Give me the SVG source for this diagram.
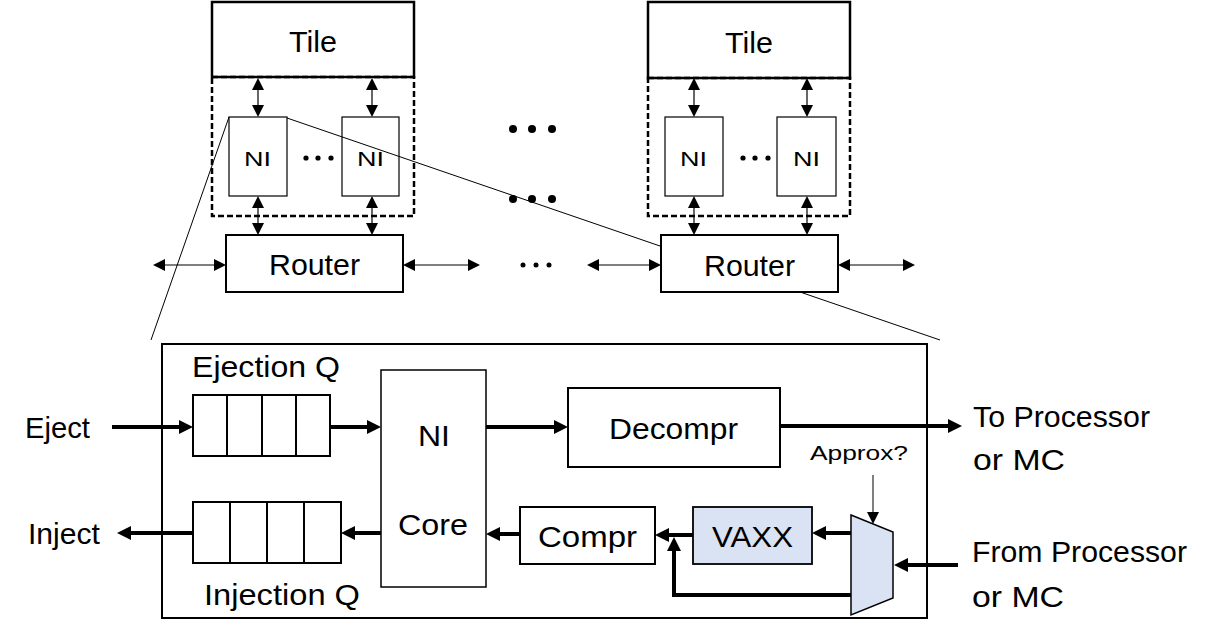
<svg xmlns="http://www.w3.org/2000/svg" width="1214" height="640" viewBox="0 0 1214 640">
<style>
  .box{fill:#fff;stroke:#000;stroke-width:2}
  .thinbox{fill:#fff;stroke:#000;stroke-width:1.2}
  .dash{fill:none;stroke:#000;stroke-width:2.5;stroke-dasharray:6 3}
  .blue{fill:#dae3f3;stroke:#000;stroke-width:1.8}
  .thin{fill:none;stroke:#000;stroke-width:1.2}
  .thick{fill:none;stroke:#000;stroke-width:4}
  .zoom{fill:none;stroke:#000;stroke-width:1}
  text{font-family:"Liberation Sans",Arial,sans-serif;fill:#000}
  .big{font-size:29px}
  .small{font-size:20px}
</style>
<defs>
  <marker id="th" markerUnits="userSpaceOnUse" viewBox="0 0 12 12" refX="0" refY="6" markerWidth="12" markerHeight="12" orient="auto-start-reverse">
    <path d="M0,0 L12,6 L0,12 z" fill="#000"/>
  </marker>
  <marker id="tk" markerUnits="userSpaceOnUse" viewBox="0 0 14 14" refX="0" refY="7" markerWidth="14" markerHeight="14" orient="auto-start-reverse">
    <path d="M0,0 L14,7 L0,14 z" fill="#000"/>
  </marker>
</defs>

<g id="tile-left">
  <rect class="box" x="212" y="2" width="202" height="75" style="stroke-width:2.5"/>
  <text class="big" x="289" y="52" textLength="48" lengthAdjust="spacingAndGlyphs">Tile</text>
</g>
<g id="ni-group-left">
  <rect class="dash" x="212" y="77" width="202" height="139"/>
</g>
<g id="ni-left-1">
  <rect class="thinbox" x="229" y="117" width="58" height="79"/>
  <text class="small" x="244" y="166" textLength="27" lengthAdjust="spacingAndGlyphs">NI</text>
</g>
<g id="ni-left-dots">
  <circle cx="306" cy="158" r="2.6"/><circle cx="318" cy="158" r="2.6"/><circle cx="331" cy="158" r="2.6"/>
</g>
<g id="ni-left-2">
  <rect class="thinbox" x="342" y="117" width="57" height="79"/>
  <text class="small" x="357" y="166" textLength="27" lengthAdjust="spacingAndGlyphs">NI</text>
</g>
<g id="router-left">
  <rect class="box" x="226" y="235" width="177" height="57"/>
  <text class="big" x="269" y="275" textLength="91" lengthAdjust="spacingAndGlyphs">Router</text>
</g>

<g id="tile-right">
  <rect class="box" x="648" y="2" width="202" height="76" style="stroke-width:2.5"/>
  <text class="big" x="725" y="53" textLength="48" lengthAdjust="spacingAndGlyphs">Tile</text>
</g>
<g id="ni-group-right">
  <rect class="dash" x="648" y="78" width="202" height="138"/>
</g>
<g id="ni-right-1">
  <rect class="thinbox" x="665" y="117" width="58" height="79"/>
  <text class="small" x="680" y="166" textLength="27" lengthAdjust="spacingAndGlyphs">NI</text>
</g>
<g id="ni-right-dots">
  <circle cx="743" cy="158" r="2.6"/><circle cx="755" cy="158" r="2.6"/><circle cx="768" cy="158" r="2.6"/>
</g>
<g id="ni-right-2">
  <rect class="thinbox" x="777" y="117" width="59" height="79"/>
  <text class="small" x="793" y="166" textLength="27" lengthAdjust="spacingAndGlyphs">NI</text>
</g>
<g id="router-right">
  <rect class="box" x="661" y="235" width="177" height="57"/>
  <text class="big" x="704" y="276" textLength="91" lengthAdjust="spacingAndGlyphs">Router</text>
</g>

<g id="ellipses">
  <circle cx="513" cy="129" r="4"/><circle cx="532" cy="129" r="4"/><circle cx="552" cy="129" r="4"/>
  <circle cx="513" cy="199" r="4"/><circle cx="532" cy="199" r="4"/><circle cx="552" cy="199" r="4"/>
  <circle cx="523" cy="265" r="2.5"/><circle cx="536" cy="265" r="2.5"/><circle cx="549" cy="265" r="2.5"/>
</g>

<g id="ni-detail">
  <rect class="box" x="162" y="344" width="765" height="274"/>
</g>
<g id="ejection-q">
  <rect class="box" x="193" y="395" width="137" height="61"/>
  <path class="box" d="M227,395V456M262,395V456M296,395V456"/>
  <text class="big" x="192" y="377" textLength="148" lengthAdjust="spacingAndGlyphs">Ejection Q</text>
</g>
<g id="injection-q">
  <rect class="box" x="193" y="502" width="148" height="61"/>
  <path class="box" d="M230,502V563M267,502V563M304,502V563"/>
  <text class="big" x="204" y="605" textLength="156" lengthAdjust="spacingAndGlyphs">Injection Q</text>
</g>
<g id="ni-core">
  <rect class="box" x="381" y="370" width="105" height="217" style="stroke-width:1.5"/>
  <text class="big" x="418" y="446" textLength="32" lengthAdjust="spacingAndGlyphs">NI</text>
  <text class="big" x="398" y="535" textLength="70" lengthAdjust="spacingAndGlyphs">Core</text>
</g>
<g id="decompr">
  <rect class="box" x="568" y="388" width="212" height="79"/>
  <text class="big" x="609" y="439" textLength="129" lengthAdjust="spacingAndGlyphs">Decompr</text>
</g>
<g id="compr">
  <rect class="box" x="520" y="507" width="135" height="57"/>
  <text class="big" x="538" y="547" textLength="99" lengthAdjust="spacingAndGlyphs">Compr</text>
</g>
<g id="vaxx">
  <rect class="blue" x="693" y="507" width="119" height="57"/>
  <text class="big" x="712" y="547" textLength="81" lengthAdjust="spacingAndGlyphs">VAXX</text>
</g>
<g id="mux">
  <polygon class="blue" points="851,515 893,532 893,598 851,615" style="stroke-width:1.5"/>
</g>
<g id="labels">
  <text class="big" x="25" y="438" textLength="65" lengthAdjust="spacingAndGlyphs">Eject</text>
  <text class="big" x="28" y="544" textLength="72" lengthAdjust="spacingAndGlyphs">Inject</text>
  <text x="810" y="460" style="font-size:21px" textLength="98" lengthAdjust="spacingAndGlyphs">Approx?</text>
  <text class="big" x="973" y="427" textLength="177" lengthAdjust="spacingAndGlyphs">To Processor</text>
  <text class="big" x="973" y="470" textLength="92" lengthAdjust="spacingAndGlyphs">or MC</text>
  <text class="big" x="972" y="562" textLength="215" lengthAdjust="spacingAndGlyphs">From Processor</text>
  <text class="big" x="972" y="607" textLength="92" lengthAdjust="spacingAndGlyphs">or MC</text>
</g>

<g id="connectors">
  <!-- zoom lines -->
  <line class="zoom" x1="229" y1="117" x2="151" y2="340"/>
  <line class="zoom" x1="287" y1="118" x2="660" y2="246"/>
  <line class="zoom" x1="800" y1="292" x2="940" y2="340"/>
  <!-- thin double arrows, left -->
  <line class="thin" x1="258" y1="90" x2="258" y2="105" marker-start="url(#th)" marker-end="url(#th)"/>
  <line class="thin" x1="372" y1="90" x2="372" y2="105" marker-start="url(#th)" marker-end="url(#th)"/>
  <line class="thin" x1="258" y1="208" x2="258" y2="223" marker-start="url(#th)" marker-end="url(#th)"/>
  <line class="thin" x1="372" y1="208" x2="372" y2="223" marker-start="url(#th)" marker-end="url(#th)"/>
  <line class="thin" x1="165" y1="265" x2="214" y2="265" marker-start="url(#th)" marker-end="url(#th)"/>
  <line class="thin" x1="415" y1="265" x2="468" y2="265" marker-start="url(#th)" marker-end="url(#th)"/>
  <!-- thin double arrows, right -->
  <line class="thin" x1="694" y1="90" x2="694" y2="105" marker-start="url(#th)" marker-end="url(#th)"/>
  <line class="thin" x1="807" y1="90" x2="807" y2="105" marker-start="url(#th)" marker-end="url(#th)"/>
  <line class="thin" x1="694" y1="208" x2="694" y2="223" marker-start="url(#th)" marker-end="url(#th)"/>
  <line class="thin" x1="807" y1="208" x2="807" y2="223" marker-start="url(#th)" marker-end="url(#th)"/>
  <line class="thin" x1="599" y1="265" x2="649" y2="265" marker-start="url(#th)" marker-end="url(#th)"/>
  <line class="thin" x1="850" y1="265" x2="903" y2="265" marker-start="url(#th)" marker-end="url(#th)"/>
  <!-- thick data path -->
  <line class="thick" x1="112" y1="427" x2="179" y2="427" marker-end="url(#tk)"/>
  <line class="thick" x1="330" y1="427" x2="367" y2="427" marker-end="url(#tk)"/>
  <line class="thick" x1="486" y1="427" x2="554" y2="427" marker-end="url(#tk)"/>
  <line class="thick" x1="780" y1="426" x2="948" y2="426" marker-end="url(#tk)"/>
  <line class="thick" x1="381" y1="533" x2="355" y2="533" marker-end="url(#tk)"/>
  <line class="thick" x1="193" y1="533" x2="131" y2="533" marker-end="url(#tk)"/>
  <line class="thick" x1="520" y1="534" x2="500" y2="534" marker-end="url(#tk)"/>
  <line class="thick" x1="693" y1="535" x2="669" y2="535" marker-end="url(#tk)"/>
  <line class="thick" x1="851" y1="533" x2="826" y2="533" marker-end="url(#tk)"/>
  <line class="thick" x1="958" y1="565" x2="908" y2="565" marker-end="url(#tk)"/>
  <polyline class="thick" points="851,595 674,595 674,551" marker-end="url(#tk)"/>
  <!-- approx select -->
  <line class="zoom" x1="873" y1="475" x2="873" y2="512" marker-end="url(#th)"/>
</g>
</svg>
